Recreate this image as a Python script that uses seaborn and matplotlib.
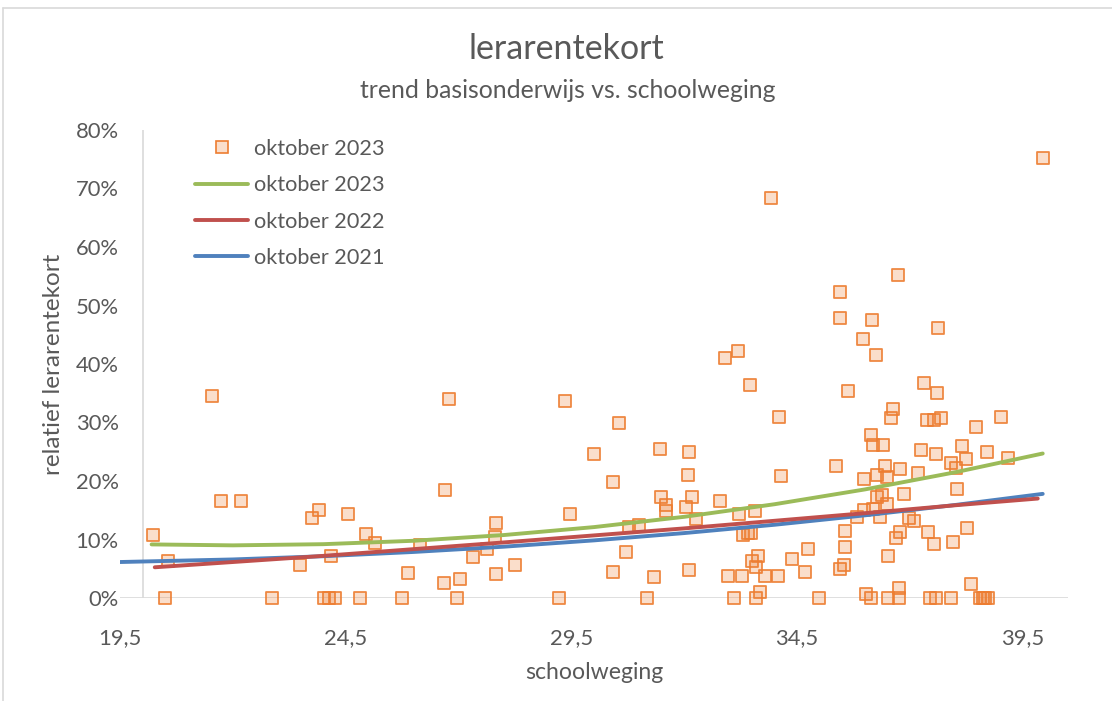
import numpy as np
import pandas as pd
import matplotlib
matplotlib.use("Agg")
import matplotlib.pyplot as plt
import seaborn as sns
from matplotlib.lines import Line2D
from matplotlib.ticker import FuncFormatter

# ---------------- data ----------------
schoolweging_2023 = [
    20.24, 20.56, 20.50, 21.54, 21.74, 22.18, 22.86, 23.49, 23.75, 23.90,
    24.02, 24.14, 24.26, 24.17, 24.55, 24.81, 24.94, 25.15, 25.75, 25.88,
    26.14, 26.79, 26.70, 26.68, 27.03, 26.96, 27.31, 27.64, 27.82, 27.81,
    27.83, 28.25, 29.35, 29.22, 29.47, 30.00, 30.56, 30.43, 30.43, 30.71,
    30.77, 31.00, 31.17, 31.33, 31.46, 31.48, 31.59, 31.59, 32.03, 32.10,
    32.09, 32.17, 32.11, 32.26, 32.80, 32.91, 33.20, 32.96, 33.10, 33.27,
    33.22, 33.31, 33.42, 33.47, 33.56, 33.46, 33.50, 33.64, 33.58, 33.59,
    33.67, 33.78, 34.07, 34.09, 34.15, 34.38, 34.67, 34.75, 34.98, 35.36,
    35.44, 35.54, 35.55, 35.55, 35.44, 35.45, 35.63, 35.82, 35.99, 35.96,
    36.02, 36.13, 36.14, 36.17, 36.15, 36.24, 35.99, 36.18, 36.27, 36.26,
    36.73, 37.61, 37.31, 37.60, 36.63, 36.58, 37.37, 37.53, 37.69, 38.46,
    39.01, 36.40, 37.24, 37.57, 38.16, 38.25, 38.71, 39.17, 37.90, 38.03,
    36.44, 36.78, 37.17, 36.48, 38.05, 36.87, 36.38, 36.48, 36.33, 36.98,
    37.09, 36.78, 37.40, 36.68, 37.53, 37.96, 38.27, 36.52, 38.36, 36.76,
    36.52, 36.76, 37.45, 37.57, 37.91, 38.55, 38.61, 38.67, 38.73, 39.94,
    33.92,
]
tekort_2023 = [
    10.8, 6.4, 0.0, 34.5, 16.6, 16.6, 0.0, 5.7, 13.6, 15.1,
    0.0, 0.0, 0.0, 7.2, 14.4, 0.0, 10.9, 9.45, 0.0, 4.3,
    9.1, 34.0, 18.5, 2.5, 3.25, 0.0, 7.0, 8.4, 12.8, 10.4,
    4.1, 5.7, 33.7, 0.0, 14.4, 24.7, 29.9, 19.9, 4.4, 7.9,
    12.2, 12.5, 0.0, 3.6, 25.5, 17.3, 14.9, 15.9, 15.6, 25.0,
    21.1, 17.2, 4.8, 13.5, 16.6, 41.1, 42.3, 3.7, 0.0, 3.7,
    14.3, 10.7, 11.06, 11.06, 14.9, 36.4, 6.3, 7.1, 5.35, 0.0,
    1.0, 3.7, 3.7, 30.9, 20.8, 6.7, 4.5, 8.4, 0.0, 22.6,
    5.0, 5.6, 8.7, 11.45, 52.3, 47.9, 35.4, 13.9, 20.4, 44.2,
    0.6, 0.0, 27.8, 26.2, 47.6, 41.5, 15.0, 15.2, 21.1, 17.2,
    55.2, 46.2, 36.8, 35.0, 32.3, 30.8, 30.4, 30.4, 30.8, 29.2,
    30.9, 26.2, 25.3, 24.7, 25.9, 23.8, 24.9, 24.0, 23.1, 22.2,
    22.6, 22.1, 21.3, 20.6, 18.7, 17.8, 17.6, 16.1, 13.8, 13.6,
    13.2, 11.3, 11.3, 10.2, 9.2, 9.6, 11.9, 7.1, 2.45, 1.65,
    0.0, 0.0, 0.0, 0.0, 0.0, 0.0, 0.0, 0.0, 0.0, 75.2,
    68.4,
]

trend_x_2023 = [20.2, 22, 24, 26, 28, 30, 32, 34, 36, 38, 39.94]
trend_y_2023 = [9.16, 9.0, 9.2, 9.78, 10.76, 12.12, 13.88, 16.03, 18.56, 21.49, 24.7]

trend_x_2022 = [20.27, 22, 24, 26, 28, 30, 32, 34, 36, 38, 39.83]
trend_y_2022 = [5.25, 6.15, 7.2, 8.35, 9.5, 10.7, 11.9, 13.2, 14.5, 15.85, 17.0]

trend_x_2021 = [19.5, 22, 24, 26, 28, 30, 32, 34, 36, 38, 39.94]
trend_y_2021 = [6.15, 6.59, 7.14, 7.87, 8.77, 9.85, 11.1, 12.52, 14.13, 15.9, 17.8]

x_ticks = [19.5, 24.5, 29.5, 34.5, 39.5]
y_ticks = [0, 10, 20, 30, 40, 50, 60, 70, 80]

title = "lerarentekort"
subtitle = "trend basisonderwijs vs. schoolweging"
x_label = "schoolweging"
y_label = "relatief lerarentekort"
legend_labels = ["oktober 2023", "oktober 2023", "oktober 2022", "oktober 2021"]

# ---------------- style ----------------
sns.set_theme(style="white")
plt.rcParams["font.family"] = ["Lato", "DejaVu Sans"]
TXT = "#595959"
GRID = "#D9D9D9"
ORANGE = "#ED7D31"
GREEN = "#9BBB59"
RED = "#C0504D"
BLUE = "#4F81BD"

W, H = 1112, 701
fig = plt.figure(figsize=(W / 100, H / 100), dpi=100)
fig.patch.set_facecolor("white")

L, R, T, B = 120, 1068, 130, 598
ax = fig.add_axes([L / W, 1 - B / H, (R - L) / W, (B - T) / H])
ax.set_xlim(19.5, 40.5)
ax.set_ylim(0, 80)

# axis lines
ax.axhline(0, color=GRID, lw=1.2, zorder=1)
ax.axvline(20, color=GRID, lw=1.2, zorder=1)
for s in ax.spines.values():
    s.set_visible(False)

df = pd.DataFrame({"x": schoolweging_2023, "y": tekort_2023})
sns.scatterplot(data=df, x="x", y="y", ax=ax, marker="s", s=75,
                facecolor=(237 / 255, 125 / 255, 49 / 255, 0.25),
                edgecolor=(237 / 255, 125 / 255, 49 / 255, 0.9),
                linewidth=1.3, clip_on=False, zorder=3, legend=False)

for tx, ty, col in [(trend_x_2021, trend_y_2021, BLUE),
                    (trend_x_2022, trend_y_2022, RED),
                    (trend_x_2023, trend_y_2023, GREEN)]:
    sns.lineplot(x=tx, y=ty, ax=ax, color=col, lw=2.8, sort=False,
                 estimator=None, zorder=4, legend=False)

ax.set_xticks(x_ticks)
ax.set_yticks(y_ticks)
ax.xaxis.set_major_formatter(FuncFormatter(lambda v, p: f"{v:.1f}".replace(".", ",")))
ax.yaxis.set_major_formatter(FuncFormatter(lambda v, p: f"{v:.0f}%"))
ax.tick_params(axis="both", length=0, labelsize=15.8, colors=TXT)
ax.tick_params(axis="x", pad=22)
ax.tick_params(axis="y", pad=1)
ax.set_xlabel(x_label, fontsize=16.6, color=TXT, labelpad=10)
ax.set_ylabel(y_label, fontsize=17.5, color=TXT, labelpad=8)
ax.grid(False)

fig.text(566 / W, 1 - 49 / H, title, ha="center", va="center",
         fontsize=24.5, color=TXT)
fig.text(568 / W, 1 - 90 / H, subtitle, ha="center", va="center",
         fontsize=17.8, color=TXT)

handles = [
    Line2D([], [], ls="none", marker="s", markersize=8,
           markerfacecolor=(237 / 255, 125 / 255, 49 / 255, 0.25),
           markeredgecolor=ORANGE, markeredgewidth=1.2),
    Line2D([], [], color=GREEN, lw=2.8),
    Line2D([], [], color=RED, lw=2.8),
    Line2D([], [], color=BLUE, lw=2.8),
]
leg = ax.legend(handles, legend_labels, loc="upper left",
                bbox_to_anchor=(195 / W, 1 - 139 / H), bbox_transform=fig.transFigure,
                frameon=False, fontsize=15.6, handlelength=2.45, handletextpad=0.25,
                labelspacing=0.75, borderaxespad=0, borderpad=0)
for t in leg.get_texts():
    t.set_color(TXT)

# chart border (partly cropped)
fig.add_artist(Line2D([3 / W, 1], [1 - 8 / H, 1 - 8 / H], color=GRID, lw=1.2,
                      transform=fig.transFigure))
fig.add_artist(Line2D([3 / W, 3 / W], [0, 1 - 8 / H], color=GRID, lw=1.2,
                      transform=fig.transFigure))

fig.savefig("out.png", dpi=100)
